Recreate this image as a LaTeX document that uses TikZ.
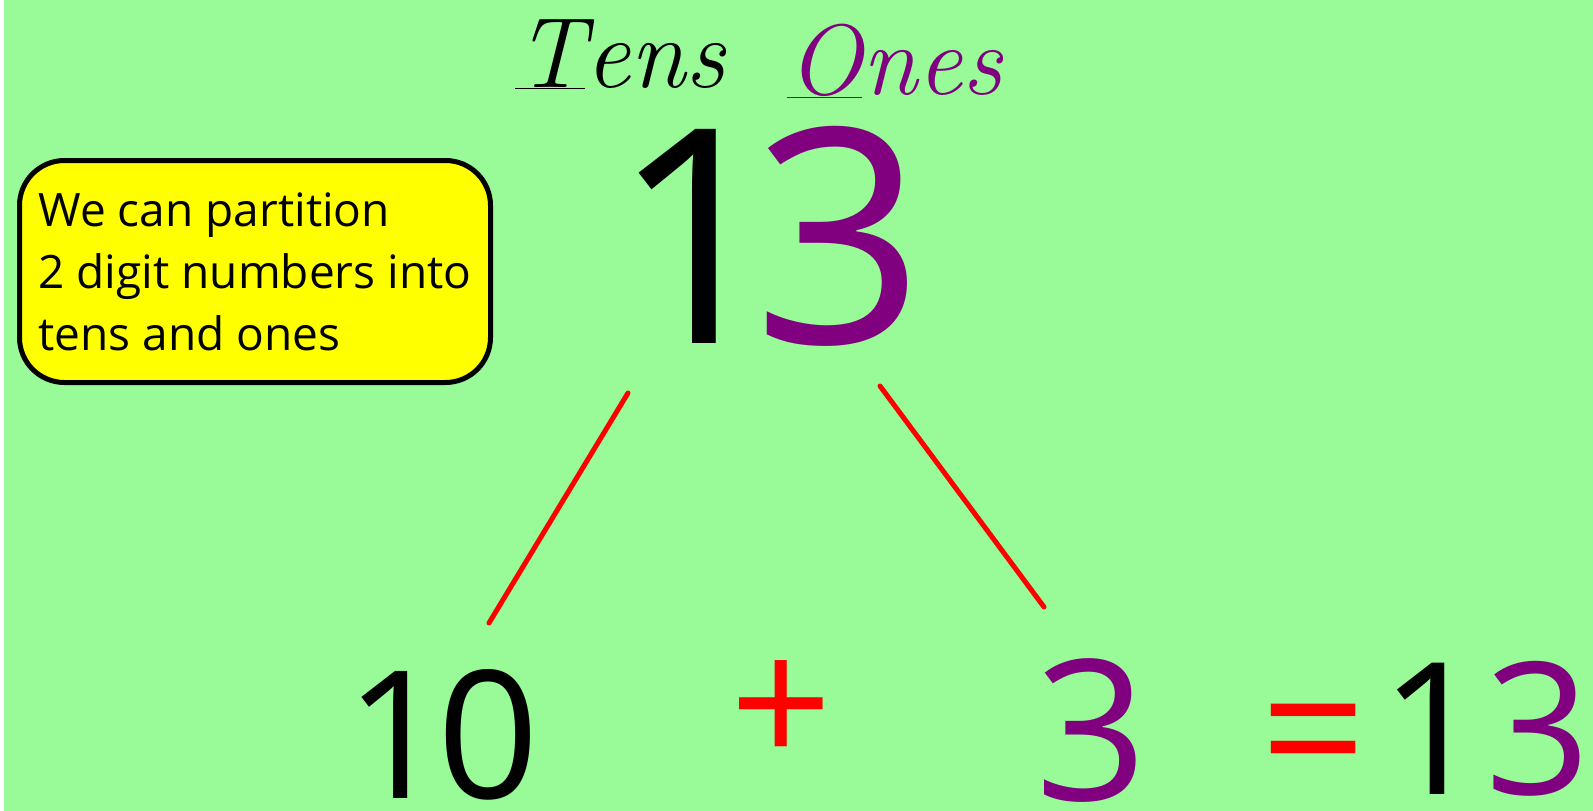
\documentclass[tikz,border=0pt]{standalone}
\usepackage{fontspec}
\usepackage{tikz}
\usetikzlibrary{calc,positioning}
\newfontfamily\handfont{Open Sans}
\newcommand\numfont[1]{\handfont\fontsize{#1}{#1}\selectfont}
\definecolor{bgc}{HTML}{98FB98}
\definecolor{notec}{HTML}{FFFF00}
\definecolor{onesc}{HTML}{800080}
\definecolor{splitc}{HTML}{FF0000}
\tikzset{
  split/.style={splitc,line width=5pt,line cap=round},
  num/.style={inner sep=0pt},
  note/.style={draw=black,line width=5pt,fill=notec,rounded corners=45pt,minimum width=471pt,minimum height=222pt,align=left,inner xsep=15pt,font=\handfont\fontsize{46}{62}\selectfont},
  head/.style={inner sep=0pt,anchor=base west,font=\itshape\fontsize{100}{100}\selectfont}
}
\begin{document}
\begin{tikzpicture}[x=1pt,y=-1pt]
\useasboundingbox (0,0) rectangle (1593,811);
\clip (0,0) rectangle (1593,811);
\fill[white] (0,0) rectangle (1593,811);
\fill[bgc] (4,0) rectangle (1593,811);
\node[head] (tens) at (515,87) {\underline{T}ens};
\node[head,onesc] (ones) at (787,94) {\underline{O}nes};
\node[note] (note) at (255,271.5) {We can partition\\2 digit numbers into\\tens and ones};
\node[num,font=\numfont{300}] (big) at (768,236) {1\kern-30pt{\color{onesc}3}};
\node[num,font=\numfont{178}] (ten) at (442,735) {1\kern-10pt0};
\node[num,splitc,font=\numfont{178}] (plus) at (781,714) {+};
\node[num,onesc,font=\numfont{196}] (one) at (1092,730) {3};
\node[num,splitc,font=\numfont{186}] (eq) at (1314,749) {=};
\node[num,anchor=east,font=\numfont{184}] (sum) at (1591,729) {1{\color{onesc}3}};
\coordinate (lt) at (628,393);
\coordinate (lb) at (489,623);
\coordinate (rt) at (880,386);
\coordinate (rb) at (1044,607);
\draw[split] (lt) -- (lb);
\draw[split] (rt) -- (rb);
\end{tikzpicture}
\end{document}
